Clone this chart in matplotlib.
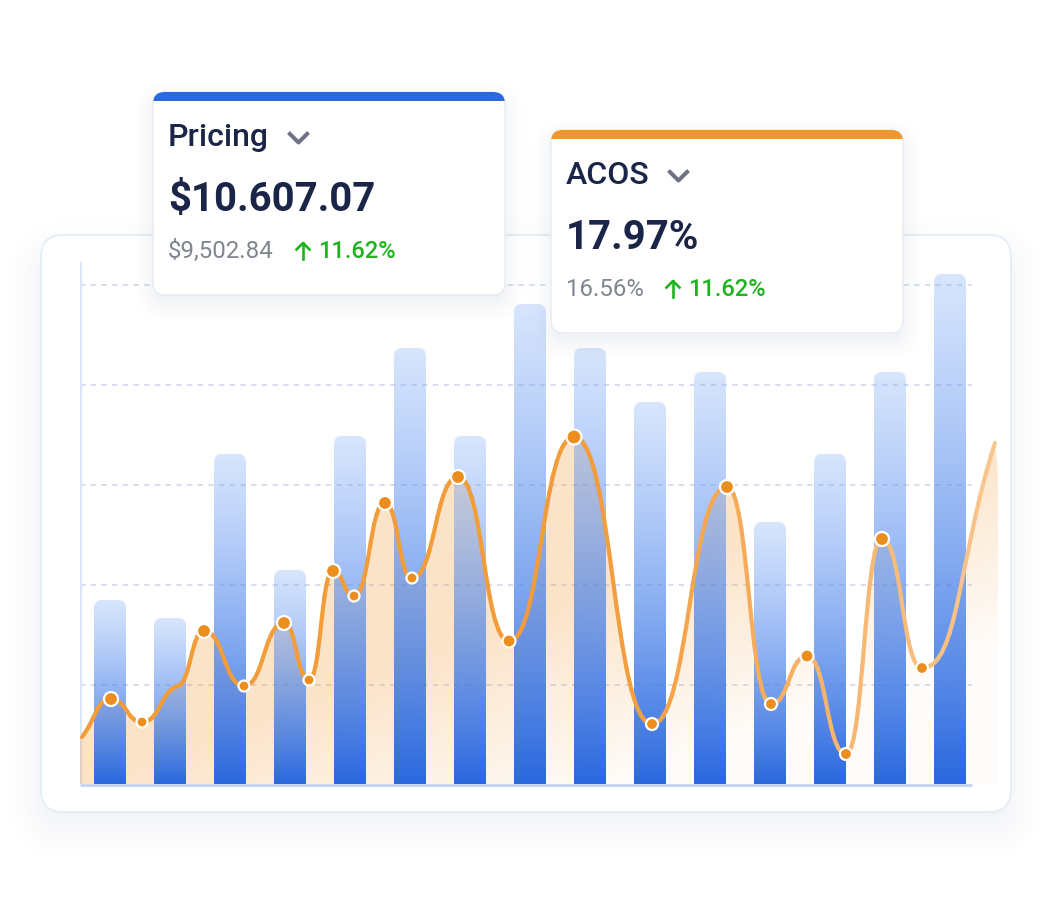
import numpy as np
import matplotlib
matplotlib.use('Agg')
import matplotlib.pyplot as plt
from matplotlib.collections import LineCollection
from matplotlib.colors import to_rgb
from matplotlib.patches import FancyBboxPatch, PathPatch, Rectangle
from matplotlib.path import Path

plt.rcParams['font.family'] = ['Roboto', 'DejaVu Sans']

W, H = 1056, 902

# bars
bar_x = [110, 170, 230, 290, 350, 410, 470, 530, 590, 650, 710, 770, 830, 890, 950]
bar_values = [184, 166, 330, 214, 348, 436, 348, 480, 436, 382, 412, 262, 330, 412, 510]

# line, ends included
line_x = [82, 111, 142, 178, 204, 244, 284, 309, 333, 354, 385, 412, 458, 509, 574, 652, 727, 771, 807, 846, 882, 922, 995]
line_values = [47, 85, 62, 98, 153, 98, 161, 104, 213, 188, 281, 206, 307, 143, 347, 60, 297, 80, 128, 30, 245, 116, 341]
# marker radius in px, 0 = no marker
marker_r = [0, 7, 5.5, 0, 7, 5.5, 7, 5.5, 7, 5.5, 7, 5.5, 7, 6.5, 7.5, 6, 7, 6, 6.5, 6, 7, 6, 0]

grid_values = [99, 199, 299, 399, 499]

# cards
card_titles = ['Pricing', 'ACOS']
card_values = ['$10.607.07', '17.97%']
card_prev = ['$9,502.84', '16.56%']
card_change = ['11.62%', '11.62%']
card_left = [153, 551]
card_top = [92, 130]
card_colors = ['#2A68DF', '#F2962B']
change_x = [318, 688]
arrow_x = [303, 673]
chevron_x = [287, 667]

BLUE = to_rgb('#2A68DF')
BLUE_TOP = to_rgb('#7AA8F8')
ORANGE = to_rgb('#F39C3A')
NAVY = '#1A2547'


def rounded_sdf(xx, yy, x0, y0, x1, y1, r):
    qx = np.abs(xx - (x0 + x1) / 2) - (x1 - x0) / 2 + r
    qy = np.abs(yy - (y0 + y1) / 2) - (y1 - y0) / 2 + r
    return np.hypot(np.maximum(qx, 0), np.maximum(qy, 0)) + np.minimum(np.maximum(qx, qy), 0) - r


def shadow(ax, x0, y0, x1, y1, r, peak, blur, dy, color='#3B5278', zorder=1):
    xs = np.arange(x0 - 2 * blur, x1 + 2 * blur)
    ys = np.arange(y0 + dy - 2 * blur, y1 + dy + 2 * blur)
    xx, yy = np.meshgrid(xs + 0.5, ys + 0.5)
    d = rounded_sdf(xx, yy, x0, y0 + dy, x1, y1 + dy, r)
    t = np.clip(0.5 - d / (2 * blur), 0, 1)
    img = np.zeros(xx.shape + (4,))
    img[..., :3] = to_rgb(color)
    img[..., 3] = peak * t * t * (3 - 2 * t)
    ax.imshow(img, extent=(xs[0], xs[-1] + 1, ys[-1] + 1, ys[0]), aspect='auto', zorder=zorder, interpolation='bilinear')


def smooth_path(xs, ys):
    # bezier through the points, flat at every peak and dip
    slopes = []
    for i in range(len(xs)):
        if i == 0 or i == len(xs) - 1:
            j = min(i, len(xs) - 2)
            slopes.append((ys[j + 1] - ys[j]) / (xs[j + 1] - xs[j]))
        elif (ys[i] - ys[i - 1]) * (ys[i + 1] - ys[i]) <= 0:
            slopes.append(0)
        else:
            slopes.append((ys[i + 1] - ys[i - 1]) / (xs[i + 1] - xs[i - 1]) * 0.2)
    verts = [(xs[0], ys[0])]
    codes = [Path.MOVETO]
    for i in range(len(xs) - 1):
        h = (xs[i + 1] - xs[i]) * 0.5
        verts += [(xs[i] + h, ys[i] + slopes[i] * h),
                  (xs[i + 1] - h, ys[i + 1] - slopes[i + 1] * h),
                  (xs[i + 1], ys[i + 1])]
        codes += [Path.CURVE4] * 3
    return verts, codes


fig = plt.figure(figsize=(W / 100, H / 100), dpi=100, facecolor='white')

# background panel
bg = fig.add_axes([0, 0, 1, 1], zorder=0)
shadow(bg, 41, 235, 1011, 812, 22, 0.085, 42, 16)
bg.add_patch(FancyBboxPatch((41 + 22, 235 + 22), 970 - 44, 577 - 44, boxstyle='round,pad=22,rounding_size=22',
                            fc='white', ec='#E3EBF6', lw=1.2, zorder=2))
bg.set_xlim(0, W)
bg.set_ylim(H, 0)
bg.axis('off')

# chart, x in px and y in px above the baseline
ax = fig.add_axes([80 / W, (H - 784) / H, 920 / W, 522 / H], zorder=1)
ax.patch.set_alpha(0)
ax.set_xlim(80, 1000)
ax.set_ylim(0, 522)

ax.hlines(grid_values, 80, 972, color='#CBD4EE', lw=1.1, linestyles=(0, (3.5, 3.5)), zorder=1)
ax.plot([80.5, 80.5], [0, 522], color='#DCE6F7', lw=1.5, zorder=1)
ax.plot([80, 972], [-1, -1], color='#C5D3EE', lw=2, zorder=6, clip_on=False, solid_capstyle='butt')

verts, codes = smooth_path(line_x, line_values)
line_path = Path(verts, codes)

# area under the line
area_path = Path(verts + [(line_x[-1] + 3, line_values[-1] - 30), (line_x[-1] + 3, 0), (line_x[0] - 2, 0), (line_x[0] - 2, line_values[0]), (line_x[0], line_values[0])],
                 codes + [Path.LINETO] * 4 + [Path.CLOSEPOLY])
gx, gy = np.meshgrid(np.linspace(80, 1000, 460), np.linspace(522, 0, 261))
u = np.clip(gy / 210 + 1 - (gx - 80) / 560, 0, 1)
area_img = np.zeros(gx.shape + (4,))
area_img[..., :3] = ORANGE
area_img[..., 3] = 0.025 + 0.255 * u
area_im = ax.imshow(area_img, extent=(80, 1000, 0, 522), aspect='auto', zorder=2, interpolation='bilinear')
area_im.set_clip_path(PathPatch(area_path, transform=ax.transData))

# bars, fading upward
BAR_W = 32
RAD = 8
for x, v in zip(bar_x, bar_values):
    l, r = x - BAR_W / 2, x + BAR_W / 2
    bar_path = Path([(l, 0), (l, v - RAD), (l, v), (l + RAD, v), (r - RAD, v), (r, v), (r, v - RAD), (r, 0), (l, 0)],
                    [Path.MOVETO, Path.LINETO, Path.CURVE3, Path.CURVE3, Path.LINETO, Path.CURVE3, Path.CURVE3, Path.LINETO, Path.CLOSEPOLY])
    s = np.linspace(0, 1, 200)[:, None]
    img = np.zeros((200, 1, 4))
    img[..., :3] = (np.array(BLUE_TOP) * (1 - s) + np.array(BLUE) * s)[:, None, :]
    img[..., 3] = 0.3 + 0.7 * s
    im = ax.imshow(img, extent=(l, r, 0, v), aspect='auto', zorder=3, interpolation='bilinear')
    im.set_clip_path(PathPatch(bar_path, transform=ax.transData))
ax.set_xlim(80, 1000)
ax.set_ylim(0, 522)

# line gets paler to the right
flat = line_path.to_polygons(closed_only=False)[0]
segs = np.stack([flat[:-1], flat[1:]], axis=1)
mid = segs[:, :, 0].mean(axis=1)
t = np.clip((mid - 600) / 395, 0, 1)[:, None]
seg_colors = np.array(ORANGE) * (1 - t) + np.array(to_rgb('#F8C690')) * t
ax.add_collection(LineCollection(segs, colors=seg_colors, linewidths=3.0, capstyle='round', zorder=4, clip_on=False))

mx = [x for x, r in zip(line_x, marker_r) if r > 0]
my = [y for y, r in zip(line_values, marker_r) if r > 0]
ms = [(2 * r * 0.72) ** 2 for r in marker_r if r > 0]
ax.scatter(mx, my, s=ms, color='#EB8E1E', edgecolor='white', linewidth=1.6, zorder=5, clip_on=False)
ax.axis('off')

# cards on top
top = fig.add_axes([0, 0, 1, 1], zorder=3)
top.patch.set_alpha(0)
for i in range(2):
    x0, y0 = card_left[i], card_top[i]
    x1, y1 = x0 + 352, y0 + 203
    shadow(top, x0, y0, x1, y1, 12, 0.11, 24, 8, zorder=1)
    card = FancyBboxPatch((x0 + 12, y0 + 12), 352 - 24, 203 - 24, boxstyle='round,pad=12,rounding_size=12',
                          fc='white', ec='#E6EAF2', lw=1, zorder=2)
    top.add_patch(card)
    strip = Rectangle((x0, y0), 352, 9, fc=card_colors[i], ec='none', zorder=3)
    top.add_patch(strip)
    strip.set_clip_path(card)

    tx = x0 + 15
    top.text(tx, y0 + 54, card_titles[i], fontsize=23, fontweight='medium', color=NAVY, va='baseline', zorder=4)
    top.text(tx, y0 + 119, card_values[i], fontsize=28.9, fontweight='bold', color=NAVY, va='baseline', zorder=4)
    top.text(tx, y0 + 166, card_prev[i], fontsize=17.3, fontweight='normal', color='#80858F', va='baseline', zorder=4)
    top.text(change_x[i], y0 + 166, card_change[i], fontsize=17, fontweight='medium', color='#1EB41E', va='baseline', zorder=4)

    # up arrow and chevron
    ax_, cy = arrow_x[i], y0 + 150
    top.plot([ax_, ax_], [cy + 17, cy + 1], color='#1EB41E', lw=1.9, zorder=4)
    top.plot([ax_ - 6.5, ax_, ax_ + 6.5], [cy + 7.5, cy + 1, cy + 7.5], color='#1EB41E', lw=1.9, zorder=4)
    cx = chevron_x[i]
    top.plot([cx + 1.5, cx + 11.5, cx + 21.5], [y0 + 40.5, y0 + 50.5, y0 + 40.5], color='#6F7287', lw=2.9, zorder=4, solid_capstyle='butt')

top.set_xlim(0, W)
top.set_ylim(H, 0)
top.axis('off')

fig.savefig('out.png', dpi=100)
